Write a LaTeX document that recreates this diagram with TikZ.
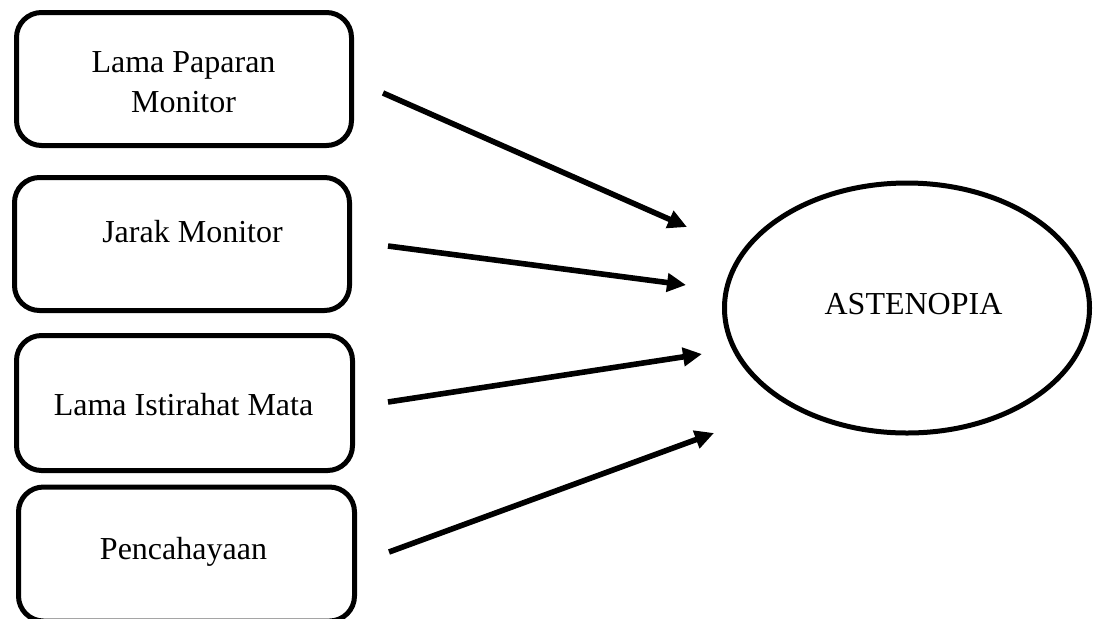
\documentclass[tikz,border=0pt]{standalone}
\usepackage{fontspec}
\setmainfont{Liberation Serif}
\usetikzlibrary{shapes.geometric,arrows.meta}
\begin{document}
\begin{tikzpicture}[x=0.5pt,y=-0.5pt,
  box/.style={draw,line width=2.5pt,rounded corners=12.5pt,minimum width=167.5pt,minimum height=66.5pt,inner sep=0pt},
  oval/.style={ellipse,draw,line width=2.5pt,minimum width=182.5pt,minimum height=125pt,inner sep=0pt},
  lbl/.style={font=\fontsize{16}{20}\selectfont,anchor=base,align=center,inner sep=0pt},
  conn/.style={line width=2.8pt,-{Triangle[length=9.5pt,width=9pt]}}]
\useasboundingbox (0,0) rectangle (1098,618);
\node[box] (b1) at (184,79) {};
\node[box] (b2) at (182,244) {};
\node[box,minimum width=168pt,minimum height=67.5pt] (b3) at (184.5,403) {};
\node[box,minimum width=168pt,minimum height=67pt] (b4) at (186.5,554) {};
\node[oval] (ast) at (907,308) {};
\node[lbl] (t1) at (183.5,112) {Lama Paparan\\Monitor};
\node[lbl] (t2) at (192.5,242) {Jarak Monitor};
\node[lbl] (t3) at (183.5,415) {Lama Istirahat Mata};
\node[lbl] (t4) at (183.5,559) {Pencahayaan};
\node[lbl] (t5) at (913.5,314) {ASTENOPIA};
\coordinate (s1) at (383,93);  \coordinate (e1) at (687,227);
\coordinate (s2) at (388,246); \coordinate (e2) at (686,285);
\coordinate (s3) at (388,402); \coordinate (e3) at (702,354);
\coordinate (s4) at (389,552); \coordinate (e4) at (714,433);
\draw[conn] (s1) -- (e1);
\draw[conn] (s2) -- (e2);
\draw[conn] (s3) -- (e3);
\draw[conn] (s4) -- (e4);
\end{tikzpicture}
\end{document}
